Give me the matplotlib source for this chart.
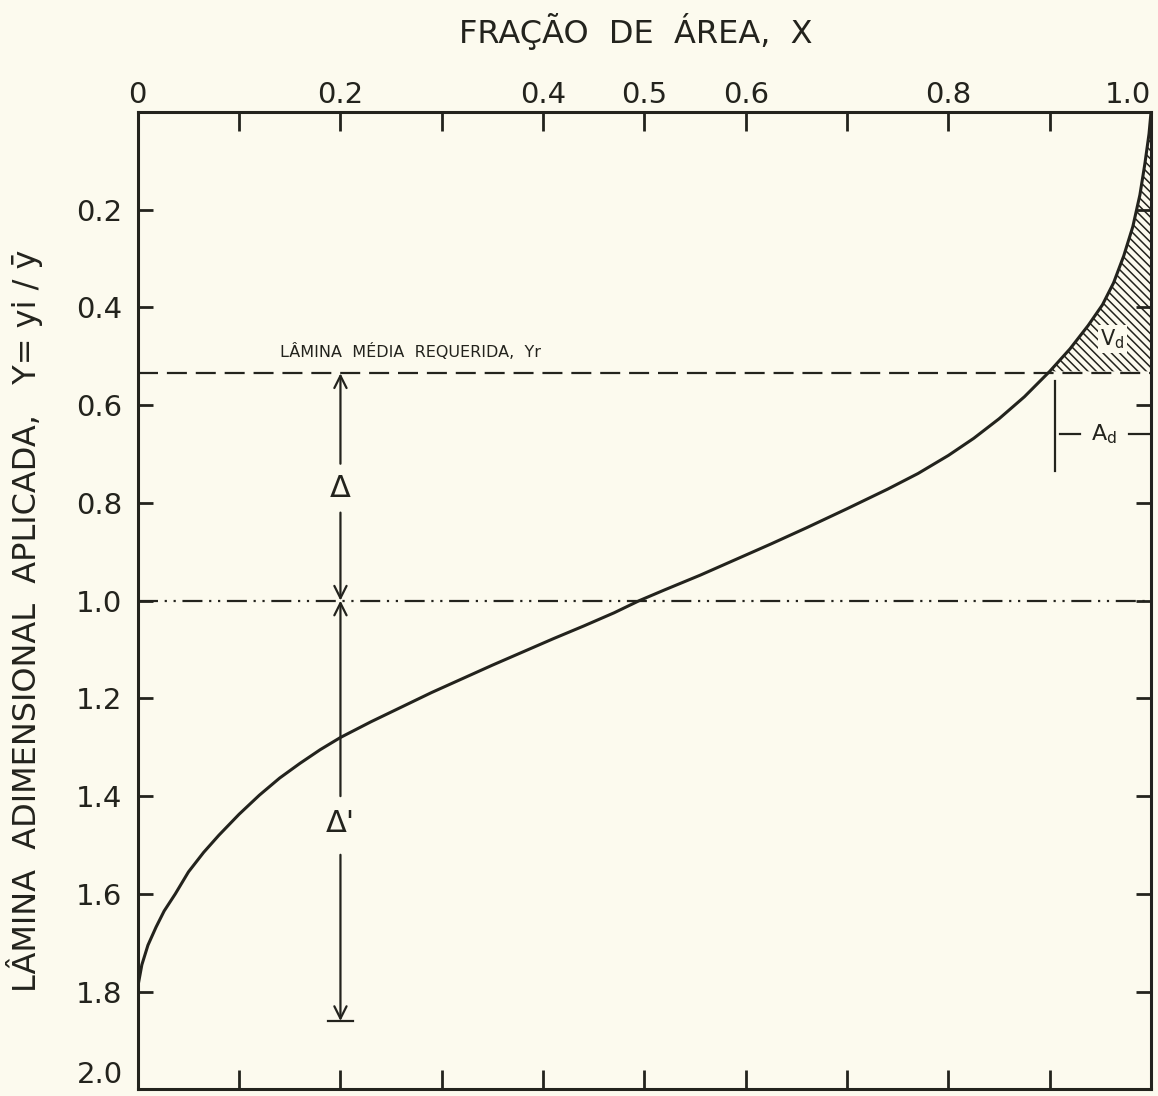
import numpy as np
import matplotlib
matplotlib.use("Agg")
import matplotlib.pyplot as plt

# curve: fraction of area X vs dimensionless depth Y
frac_area = [0.000, 0.004, 0.010, 0.018, 0.026, 0.037, 0.050, 0.065, 0.080, 0.100,
             0.120, 0.140, 0.160, 0.180, 0.200, 0.230, 0.260, 0.290, 0.320, 0.350,
             0.380, 0.410, 0.440, 0.470, 0.495, 0.520, 0.555, 0.590, 0.625, 0.660,
             0.700, 0.740, 0.770, 0.800, 0.825, 0.850, 0.875, 0.900, 0.920, 0.938,
             0.952, 0.963, 0.973, 0.982, 0.989, 0.994, 0.998, 1.000]
depth = [1.790, 1.745, 1.705, 1.668, 1.635, 1.600, 1.555, 1.515, 1.480, 1.437,
         1.398, 1.363, 1.333, 1.305, 1.280, 1.248, 1.218, 1.188, 1.160, 1.132,
         1.105, 1.078, 1.052, 1.025, 1.000, 0.978, 0.948, 0.916, 0.884, 0.851,
         0.812, 0.772, 0.740, 0.703, 0.668, 0.628, 0.583, 0.531, 0.485, 0.437,
         0.395, 0.350, 0.295, 0.235, 0.170, 0.105, 0.045, 0.000]

y_required = 0.535   # Yr
y_mean = 1.0

x_ticks = [0.0, 0.1, 0.2, 0.3, 0.4, 0.5, 0.6, 0.7, 0.8, 0.9, 1.0]
x_labels = ["0", "", "0.2", "", "0.4", "0.5", "0.6", "", "0.8", "", "1.0"]
y_ticks = [0.0, 0.2, 0.4, 0.6, 0.8, 1.0, 1.2, 1.4, 1.6, 1.8, 2.0]
y_labels = ["", "0.2", "0.4", "0.6", "0.8", "1.0", "1.2", "1.4", "1.6", "1.8", "2.0"]

ink = "#23231d"
paper = "#fcfaee"

plt.rcParams["font.family"] = ["DejaVu Sans"]
plt.rcParams["hatch.linewidth"] = 1.1
plt.rcParams["hatch.color"] = ink

fig = plt.figure(figsize=(11.58, 10.96), dpi=100, facecolor=paper)
ax = fig.add_axes([0.119, 0.006, 0.875, 0.892], facecolor=paper)

x = np.array(frac_area)
y = np.array(depth)

# hatched deficit volume Vd
ax.fill_betweenx(y, x, 1.0, where=y <= y_required + 0.01, interpolate=True,
                 facecolor="none", edgecolor=ink, hatch="\\\\\\\\", linewidth=0)

ax.plot(x, y, color=ink, lw=2.2, solid_capstyle="round", solid_joinstyle="round")

ax.axhline(y_required, color=ink, lw=1.6, linestyle=(0, (9, 4)))
ax.axhline(y_mean, color=ink, lw=1.6, linestyle=(0, (9, 3, 1, 3, 1, 3)))

ax.text(0.14, y_required - 0.045, "LÂMINA  MÉDIA  REQUERIDA,  Yr", fontsize=11.5,
        color=ink, ha="left", va="center")

# Delta arrows
arr = dict(arrowstyle="->", color=ink, lw=1.6, mutation_scale=22, shrinkA=0, shrinkB=0)
ax.annotate("", xy=(0.2, y_required), xytext=(0.2, 0.72), arrowprops=arr)
ax.annotate("", xy=(0.2, y_mean), xytext=(0.2, 0.82), arrowprops=arr)
ax.text(0.2, 0.77, "Δ", fontsize=22, color=ink, ha="center", va="center")
ax.annotate("", xy=(0.2, y_mean), xytext=(0.2, 1.40), arrowprops=arr)
ax.annotate("", xy=(0.2, 1.86), xytext=(0.2, 1.52), arrowprops=arr)
ax.plot([0.188, 0.212], [1.86, 1.86], color=ink, lw=1.6)
ax.text(0.2, 1.455, "Δ'", fontsize=22, color=ink, ha="center", va="center")

# Ad marker
ax.plot([0.905, 0.905], [0.55, 0.735], color=ink, lw=1.6)
ax.plot([0.91, 0.93], [0.66, 0.66], color=ink, lw=1.6)
ax.plot([0.978, 0.998], [0.66, 0.66], color=ink, lw=1.6)
ax.text(0.954, 0.66, r"$\mathregular{A_d}$", fontsize=16, color=ink, ha="center", va="center")
ax.text(0.962, 0.465, r"$\mathregular{V_d}$", fontsize=15, color=ink, ha="center", va="center",
        bbox=dict(boxstyle="square,pad=0.1", facecolor=paper, edgecolor="none"))

ax.set_xlim(0, 1.0)
ax.set_ylim(2.0, 0.0)

ax.set_xticks(x_ticks)
ax.set_xticklabels(x_labels)
ax.set_yticks(y_ticks)
ax.set_yticklabels(y_labels)
ax.tick_params(axis="x", direction="in", top=True, bottom=True, labeltop=True,
               labelbottom=False, length=14, width=2, color=ink, labelsize=21,
               labelcolor=ink, pad=2)
ax.tick_params(axis="y", direction="in", left=True, right=True, length=11, width=2,
               color=ink, labelsize=21, labelcolor=ink, pad=11)

# corner labels kept inside the canvas
ax.get_xticklabels(which="major")[-1].set_horizontalalignment("right")
ax.get_yticklabels(which="major")[-1].set_verticalalignment("bottom")

for s in ax.spines.values():
    s.set_linewidth(2.2)
    s.set_color(ink)

fig.text(0.549, 0.971, "FRAÇÃO  DE  ÁREA,  X", fontsize=23, color=ink, ha="center", va="center")
fig.text(0.021, 0.434, "LÂMINA  ADIMENSIONAL  APLICADA,   Y= yi / ȳ", fontsize=23,
         color=ink, ha="center", va="center", rotation=90)

fig.savefig("out.png", dpi=100, facecolor=paper)
